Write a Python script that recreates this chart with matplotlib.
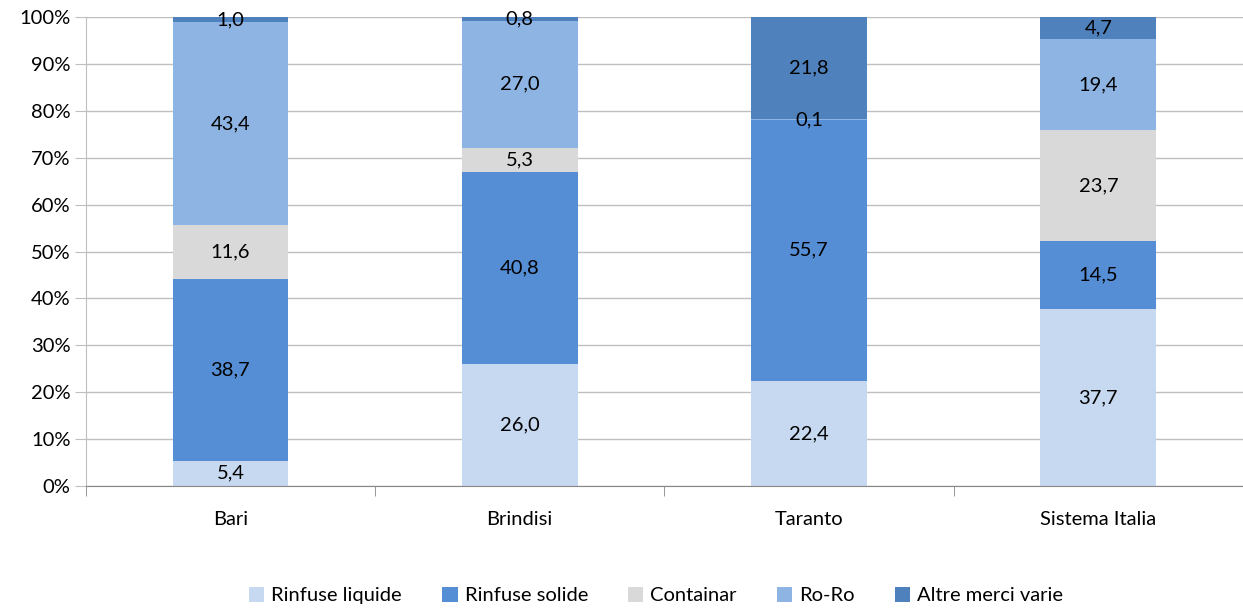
import numpy as np
import matplotlib.pyplot as plt
from matplotlib.ticker import FixedLocator

# data (percent shares)
categories = ['Bari', 'Brindisi', 'Taranto', 'Sistema Italia']
series = ['Rinfuse liquide', 'Rinfuse solide', 'Containar', 'Ro-Ro', 'Altre merci varie']
rinfuse_liquide = [5.4, 26.0, 22.4, 37.7]
rinfuse_solide = [38.7, 40.8, 55.7, 14.5]
containar = [11.6, 5.3, 0.0, 23.7]
ro_ro = [43.4, 27.0, 0.1, 19.4]
altre_merci = [1.0, 0.8, 21.8, 4.7]
colors = ['#C6D9F1', '#558ED5', '#D9D9D9', '#8EB4E3', '#4F81BD']

plt.rcParams['font.family'] = ['Lato', 'DejaVu Sans']
fs = 14.5

values = np.array([rinfuse_liquide, rinfuse_solide, containar, ro_ro, altre_merci])
shares = values / values.sum(axis=0) * 100

fig = plt.figure(figsize=(12.43, 6.09), dpi=100)
ax = fig.add_axes([0.069, 0.202, 0.931, 0.77])

x = np.arange(len(categories))
bottom = np.zeros(len(categories))
for i, name in enumerate(series):
    ax.bar(x, shares[i], 0.4, bottom=bottom, color=colors[i], label=name, zorder=2)
    for j in range(len(categories)):
        if values[i, j] > 0:
            ax.text(x[j], bottom[j] + shares[i, j] / 2, f'{values[i, j]:.1f}'.replace('.', ','),
                    ha='center', va='center', fontsize=fs, color='black', zorder=3)
    bottom += shares[i]

ax.set_xlim(-0.5, len(categories) - 0.5)
ax.set_ylim(0, 100)
ax.set_yticks(np.arange(0, 101, 10))
ax.set_yticklabels([f'{v}%' for v in range(0, 101, 10)])
ax.grid(axis='y', color='#BFBFBF', linewidth=1, zorder=0)
ax.set_xticks(x)
ax.set_xticklabels(categories)
ax.tick_params(axis='x', which='major', length=0, pad=18, labelsize=fs)
ax.xaxis.set_minor_locator(FixedLocator(np.arange(-0.5, len(categories), 1)))
ax.tick_params(axis='x', which='minor', length=7, color='#868686')
ax.tick_params(axis='y', length=8, color='#BFBFBF', labelsize=fs, pad=3)
for s in ['top', 'right']:
    ax.spines[s].set_visible(False)
ax.spines['left'].set_color('#BFBFBF')
ax.spines['bottom'].set_color('#868686')

ax.legend(loc='center', bbox_to_anchor=(0.493, -0.234), ncol=5, frameon=False,
          fontsize=fs, handlelength=0.75, handleheight=0.75, handletextpad=0.35, columnspacing=2.0)

plt.savefig('out.png', dpi=100)
